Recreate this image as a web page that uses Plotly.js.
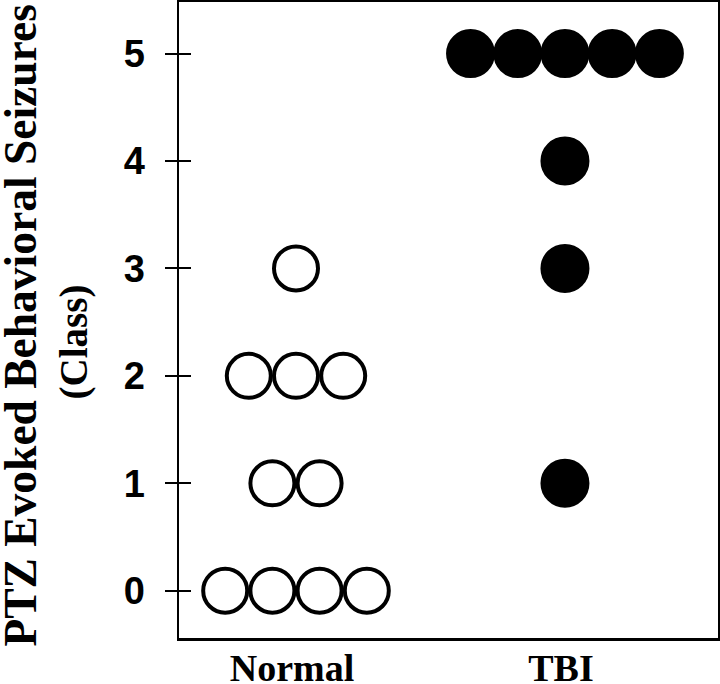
<!DOCTYPE html>
<html>
<head>
<meta charset="utf-8">
<script src="https://cdn.plot.ly/plotly-3.0.1.min.js"></script>
<style>html,body{margin:0;padding:0;background:#fff;}#chart{width:720px;height:684px;}</style>
</head>
<body>
<div id="chart"></div>
<script>
// Data
const groups = ['Normal', 'TBI'];
const normalScores = [0, 0, 0, 0, 1, 1, 2, 2, 2, 3];
const tbiScores = [1, 3, 4, 5, 5, 5, 5, 5];
const yTicks = [0, 1, 2, 3, 4, 5];
const yTitleLines = ['PTZ Evoked Behavioral Seizures', '(Class)'];

// Dot-plot layout: dots with the same score sit side by side around the group centre
const DOT_STEP = 0.1755;
function swarm(scores, groupIndex) {
  const counts = {};
  scores.forEach(s => { counts[s] = (counts[s] || 0) + 1; });
  const seen = {};
  const xs = [];
  scores.forEach(s => {
    const i = seen[s] || 0;
    seen[s] = i + 1;
    xs.push(groupIndex + (i - (counts[s] - 1) / 2) * DOT_STEP);
  });
  return xs;
}

const traces = [
  {
    type: 'scatter', mode: 'markers', name: groups[0],
    x: swarm(normalScores, 0), y: normalScores,
    marker: { symbol: 'circle', size: 44, color: '#ffffff', line: { color: '#000000', width: 4 } },
    hoverinfo: 'y'
  },
  {
    type: 'scatter', mode: 'markers', name: groups[1],
    x: swarm(tbiScores, 1), y: tbiScores,
    marker: { symbol: 'circle', size: 45, color: '#000000', line: { color: '#000000', width: 4 } },
    hoverinfo: 'y'
  },
  { type: 'scatter', mode: 'markers', x: [], y: [], yaxis: 'y2', hoverinfo: 'skip', showlegend: false }
];

const titleFont = { family: 'Liberation Serif', color: '#000', weight: 'bold' };

const layout = {
  width: 720, height: 684,
  margin: { l: 179, r: 2, t: 2, b: 46 },
  paper_bgcolor: '#ffffff', plot_bgcolor: '#ffffff',
  showlegend: false,
  xaxis: {
    range: [-0.435, 1.569],
    tickvals: [0, 1], ticktext: groups,
    ticks: '', showgrid: false, zeroline: false,
    showline: true, mirror: true, linecolor: '#000', linewidth: 2.5,
    tickfont: { family: 'Liberation Serif', size: 38, color: '#000', weight: 'bold' },
    ticklabelstandoff: -5,
    ticklabelshift: -4,
    automargin: false,
    fixedrange: true
  },
  yaxis: {
    range: [-0.44, 5.48],
    tickvals: yTicks,
    ticks: 'outside', ticklen: 12, tickwidth: 2, tickcolor: '#000',
    showgrid: false, zeroline: false,
    showline: true, mirror: true, linecolor: '#000', linewidth: 2.5,
    tickfont: { family: 'Liberation Sans', size: 38, color: '#000', weight: 'bold' },
    ticklabelstandoff: 12,
    automargin: false,
    fixedrange: true
  },
  yaxis2: {
    overlaying: 'y', side: 'left', anchor: 'x',
    range: [-0.44, 5.48],
    tickvals: yTicks,
    ticks: 'inside', ticklen: 12, tickwidth: 2, tickcolor: '#000',
    showticklabels: false, showgrid: false, zeroline: false, showline: false,
    fixedrange: true
  },
  annotations: [
    {
      text: yTitleLines[0], textangle: -90,
      xref: 'paper', yref: 'paper', x: -0.294, y: 0.492,
      xanchor: 'center', yanchor: 'middle', showarrow: false,
      font: Object.assign({ size: 45.5 }, titleFont)
    },
    {
      text: yTitleLines[1], textangle: -90,
      xref: 'paper', yref: 'paper', x: -0.194, y: 0.4654,
      xanchor: 'center', yanchor: 'middle', showarrow: false,
      font: Object.assign({ size: 39 }, titleFont)
    }
  ]
};

Plotly.newPlot('chart', traces, layout, { displayModeBar: false, staticPlot: true });
</script>
</body>
</html>
